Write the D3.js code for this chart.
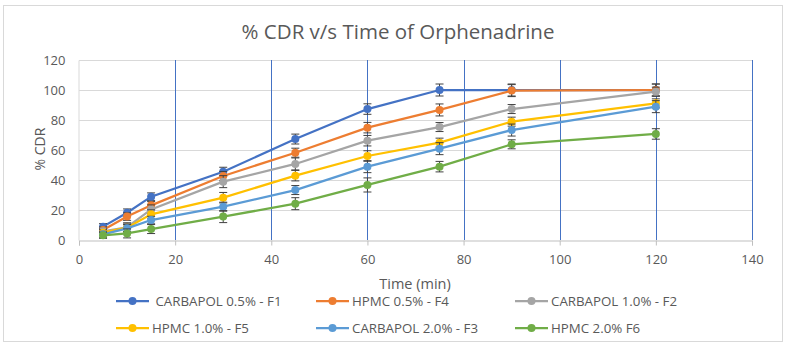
<!DOCTYPE html>
<html>
<head>
<meta charset="utf-8">
<script src="https://cdn.jsdelivr.net/npm/d3@7"></script>
<style>
  body { margin: 0; background: #fff; }
  svg { font-family: "Open Sans", "Liberation Sans", sans-serif; }
</style>
</head>
<body>
<div id="chart"></div>
<script>
const width = 787, height = 344;

// data (time in min, % CDR)
const times = [5, 10, 15, 30, 45, 60, 75, 90, 120];
const seriesNames = [" CARBAPOL 0.5% - F1", "HPMC 0.5% - F4", "CARBAPOL 1.0% - F2",
                     "HPMC 1.0% - F5", "CARBAPOL 2.0% - F3", "HPMC 2.0% F6"];
const seriesColors = ["#4472c4", "#ed7d31", "#a5a5a5", "#ffc000", "#5b9bd5", "#70ad47"];
const f1 = [8.9, 18.2, 28.9, 45.5, 67.3, 87.3, 100, 100, 100];
const f4 = [6.7, 15.6, 23.1, 42.7, 58.2, 74.9, 86.7, 99.6, 100];
const f2 = [5.8, 8.5, 20.4, 38.9, 50.7, 66.2, 75.3, 87.3, 98.9];
const f5 = [4.9, 8.2, 17.1, 28.2, 42.9, 56.0, 64.9, 78.9, 91.1];
const f3 = [3.8, 7.8, 13.3, 22.2, 33.3, 48.9, 60.9, 73.3, 88.9];
const f6 = [3.1, 4.4, 7.3, 15.6, 24.2, 36.7, 48.9, 63.8, 70.7];
const seriesValues = [f1, f4, f2, f5, f3, f6];
const errF1 = [2, 2.5, 2.5, 3, 3.3, 3.5, 4, 4, 4];
const errF4 = [2, 2.5, 2.5, 3, 3, 3.5, 4, 4, 4];
const errF2 = [2, 3, 3, 4, 4, 3.5, 3, 3, 3];
const errF5 = [2, 2.5, 3, 3.5, 3.5, 3.5, 3, 3, 3];
const errF3 = [2, 2.5, 2.5, 3, 3, 4, 4, 4, 4];
const errF6 = [2, 3, 3, 4, 4, 4.7, 3.5, 3, 3.5];
const seriesErrors = [errF1, errF4, errF2, errF5, errF3, errF6];
const xTicks = [0, 20, 40, 60, 80, 100, 120, 140];
const yTicks = [0, 20, 40, 60, 80, 100, 120];

const svg = d3.select("#chart")
    .append("svg")
    .attr("width", width)
    .attr("height", height);

// outer border
svg.append("rect")
    .attr("x", 3.5).attr("y", 5.5)
    .attr("width", 779).attr("height", 336)
    .attr("fill", "#fff")
    .attr("stroke", "#d9d9d9");

const x = d3.scaleLinear().domain([0, 140]).range([79, 752]);
const y = d3.scaleLinear().domain([0, 120]).range([240, 60]);

// horizontal gridlines
svg.selectAll(".hgrid")
    .data(yTicks.filter(d => d > 0))
    .enter()
    .append("line")
    .attr("x1", x(0)).attr("x2", x(140))
    .attr("y1", d => Math.round(y(d)) + 0.5)
    .attr("y2", d => Math.round(y(d)) + 0.5)
    .attr("stroke", "#d9d9d9");

// vertical blue lines
svg.selectAll(".vgrid")
    .data(xTicks.filter(d => d > 0))
    .enter()
    .append("line")
    .attr("x1", d => Math.round(x(d)) + 0.5)
    .attr("x2", d => Math.round(x(d)) + 0.5)
    .attr("y1", y(120)).attr("y2", y(0))
    .attr("stroke", "#4472c4");

// axes
const xAxis = svg.append("g")
    .attr("transform", `translate(0,${y(0) + 0.5})`)
    .call(d3.axisBottom(x).tickValues(xTicks).tickSize(5).tickPadding(9));
xAxis.select(".domain").attr("stroke", "#bfbfbf");
xAxis.selectAll(".tick line").attr("stroke", "#bfbfbf");

const yAxis = svg.append("g")
    .attr("transform", `translate(${x(0) - 0.5},0)`)
    .call(d3.axisLeft(y).tickValues(yTicks).tickSize(0).tickPadding(13));
yAxis.select(".domain").attr("stroke", "#d9d9d9");

svg.selectAll(".tick text")
    .attr("fill", "#595959")
    .attr("font-size", 13)
    .attr("font-family", "Open Sans, sans-serif");

// titles
svg.append("text")
    .attr("x", 398).attr("y", 39)
    .attr("text-anchor", "middle")
    .attr("font-size", 20.5)
    .attr("fill", "#595959")
    .text("% CDR v/s Time of Orphenadrine");

svg.append("text")
    .attr("x", 415).attr("y", 289)
    .attr("text-anchor", "middle")
    .attr("font-size", 14.5)
    .attr("fill", "#595959")
    .text("Time (min)");

svg.append("text")
    .attr("transform", "translate(45,149) rotate(-90)")
    .attr("text-anchor", "middle")
    .attr("font-size", 14)
    .attr("fill", "#595959")
    .text("% CDR");

// series
const line = d3.line()
    .x((d, i) => x(times[i]))
    .y(d => y(d));

seriesValues.forEach((vals, s) => {
    const g = svg.append("g");
    g.append("path")
        .datum(vals)
        .attr("d", line)
        .attr("fill", "none")
        .attr("stroke", seriesColors[s])
        .attr("stroke-width", 2.25);

    // error bars
    const eb = g.selectAll(".err")
        .data(vals)
        .enter()
        .append("g")
        .attr("stroke", "#404040")
        .attr("stroke-width", 1);
    eb.append("line")
        .attr("x1", (d, i) => x(times[i])).attr("x2", (d, i) => x(times[i]))
        .attr("y1", (d, i) => y(d - seriesErrors[s][i]))
        .attr("y2", (d, i) => y(d + seriesErrors[s][i]));
    eb.append("line")
        .attr("x1", (d, i) => x(times[i]) - 4).attr("x2", (d, i) => x(times[i]) + 4)
        .attr("y1", (d, i) => y(d - seriesErrors[s][i]))
        .attr("y2", (d, i) => y(d - seriesErrors[s][i]));
    eb.append("line")
        .attr("x1", (d, i) => x(times[i]) - 4).attr("x2", (d, i) => x(times[i]) + 4)
        .attr("y1", (d, i) => y(d + seriesErrors[s][i]))
        .attr("y2", (d, i) => y(d + seriesErrors[s][i]));

    g.selectAll("circle")
        .data(vals)
        .enter()
        .append("circle")
        .attr("cx", (d, i) => x(times[i]))
        .attr("cy", d => y(d))
        .attr("r", 4)
        .attr("fill", seriesColors[s]);
});

// legend
const legendX = [116, 316, 515];
const legendY = [301, 328];
seriesNames.forEach((name, s) => {
    const lx = legendX[s % 3], ly = legendY[Math.floor(s / 3)];
    const g = svg.append("g");
    g.append("line")
        .attr("x1", lx).attr("x2", lx + 33)
        .attr("y1", ly).attr("y2", ly)
        .attr("stroke", seriesColors[s])
        .attr("stroke-width", 2.25);
    g.append("circle")
        .attr("cx", lx + 16.5).attr("cy", ly)
        .attr("r", 4)
        .attr("fill", seriesColors[s]);
    g.append("text")
        .attr("x", lx + 36).attr("y", ly + 4.5)
        .attr("font-size", 13.3)
        .attr("fill", "#595959")
        .attr("xml:space", "preserve")
        .style("white-space", "pre")
        .text(name);
});
</script>
</body>
</html>
